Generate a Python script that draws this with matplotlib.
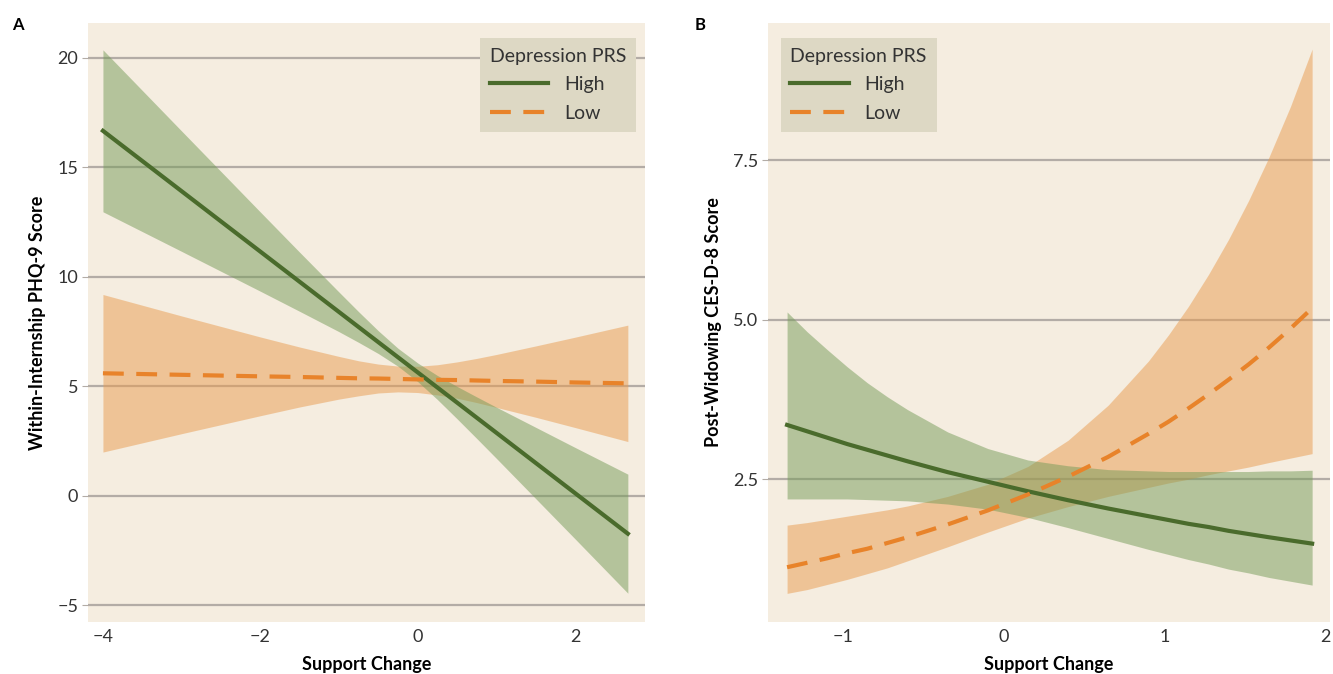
import matplotlib.pyplot as plt

plt.rcParams['font.family'] = ['Lato', 'DejaVu Sans']

# Panel A: Within-Internship PHQ-9 score vs support change
xa = [-4, -3, -2, -1.5, -1, -0.75, -0.5, -0.25, 0, 0.25, 0.5, 0.75, 1, 1.5, 2, 2.67]
a_high = [16.67, 13.91, 11.15, 9.77, 8.39, 7.70, 7.01, 6.32, 5.63, 4.94, 4.25, 3.56, 2.87, 1.49, 0.11, -1.74]
a_high_lo = [12.97, 11.16, 9.34, 8.42, 7.49, 7.00, 6.49, 5.91, 5.21, 4.39, 3.51, 2.61, 1.70, -0.14, -1.98, -4.46]
a_high_hi = [20.37, 16.66, 12.96, 11.12, 9.30, 8.40, 7.53, 6.73, 6.06, 5.49, 4.99, 4.51, 4.04, 3.12, 2.20, 0.98]
a_low = [5.59, 5.52, 5.45, 5.42, 5.38, 5.36, 5.35, 5.33, 5.31, 5.29, 5.28, 5.26, 5.24, 5.21, 5.17, 5.13]
a_low_lo = [1.99, 2.83, 3.65, 4.05, 4.41, 4.56, 4.69, 4.74, 4.71, 4.60, 4.45, 4.25, 4.03, 3.58, 3.11, 2.47]
a_low_hi = [9.19, 8.21, 7.25, 6.79, 6.36, 6.16, 6.01, 5.92, 5.91, 5.98, 6.11, 6.27, 6.45, 6.84, 7.24, 7.79]

# Panel B: Post-Widowing CES-D-8 score vs support change
xb = [-1.35, -1.225, -1.1, -0.975, -0.85, -0.725, -0.6, -0.35, -0.1, 0.15, 0.4,
      0.65, 0.9, 1.025, 1.15, 1.275, 1.4, 1.525, 1.65, 1.785, 1.92]
b_high = [3.35, 3.25, 3.15, 3.05, 2.96, 2.87, 2.78, 2.61, 2.46, 2.31, 2.17,
          2.04, 1.92, 1.86, 1.80, 1.75, 1.69, 1.64, 1.59, 1.54, 1.49]
b_high_lo = [2.19, 2.19, 2.19, 2.19, 2.18, 2.17, 2.16, 2.11, 2.03, 1.90, 1.74,
             1.57, 1.40, 1.32, 1.24, 1.17, 1.09, 1.03, 0.96, 0.90, 0.84]
b_high_hi = [5.12, 4.81, 4.53, 4.26, 4.01, 3.79, 3.59, 3.24, 2.98, 2.80, 2.71,
             2.65, 2.63, 2.62, 2.62, 2.62, 2.62, 2.62, 2.63, 2.63, 2.64]
b_low = [1.12, 1.19, 1.26, 1.34, 1.41, 1.50, 1.59, 1.79, 2.01, 2.26, 2.54,
         2.85, 3.21, 3.40, 3.61, 3.83, 4.06, 4.30, 4.56, 4.86, 5.18]
b_low_lo = [0.71, 0.77, 0.85, 0.93, 1.02, 1.11, 1.22, 1.44, 1.67, 1.89, 2.07,
            2.23, 2.37, 2.44, 2.50, 2.57, 2.63, 2.69, 2.76, 2.83, 2.90]
b_low_hi = [1.78, 1.82, 1.87, 1.92, 1.97, 2.02, 2.08, 2.23, 2.42, 2.70, 3.11,
            3.66, 4.35, 4.76, 5.21, 5.71, 6.26, 6.87, 7.54, 8.34, 9.24]

bg = '#F5EDE0'
green = '#4A6B2C'
green_fill = '#759B58'
orange = '#E8832A'
orange_fill = '#E99B4E'
grid = '#B3ACA6'

fig = plt.figure(figsize=(13.33, 6.74), dpi=100)
axA = fig.add_axes([0.066, 0.077, 0.418, 0.889])
axB = fig.add_axes([0.576, 0.077, 0.4216, 0.889])


def style(ax):
    ax.set_facecolor(bg)
    for s in ax.spines.values():
        s.set_visible(False)
    ax.yaxis.grid(True, color=grid, linewidth=1.6)
    ax.set_axisbelow(True)
    ax.tick_params(axis='y', length=4, color=grid, labelsize=13, labelcolor='#333333', pad=3)
    ax.tick_params(axis='x', length=0, labelsize=13, labelcolor='#333333', pad=5)
    ax.set_xlabel('Support Change', fontsize=13, fontweight='bold', labelpad=8)


def draw(ax, x, hi, hi_lo, hi_hi, lo, lo_lo, lo_hi):
    ax.fill_between(x, lo_lo, lo_hi, color=orange_fill, alpha=0.5, linewidth=0)
    ax.fill_between(x, hi_lo, hi_hi, color=green_fill, alpha=0.5, linewidth=0)
    ax.plot(x, hi, color=green, linewidth=3, label='High')
    ax.plot(x, lo, color=orange, linewidth=3, dashes=(5, 3), label='Low')


style(axA)
draw(axA, xa, a_high, a_high_lo, a_high_hi, a_low, a_low_lo, a_low_hi)
axA.set_xlim(-4.19, 2.89)
axA.set_ylim(-5.78, 21.6)
axA.set_xticks([-4, -2, 0, 2])
axA.set_xticklabels(['\u22124', '\u22122', '0', '2'])
axA.set_yticks([-5, 0, 5, 10, 15, 20])
axA.set_yticklabels(['\u22125', '0', '5', '10', '15', '20'])
axA.set_ylabel('Within-Internship PHQ-9 Score', fontsize=13, fontweight='bold', labelpad=8)

style(axB)
draw(axB, xb, b_high, b_high_lo, b_high_hi, b_low, b_low_lo, b_low_hi)
axB.set_xlim(-1.47, 2.03)
axB.set_ylim(0.26, 9.65)
axB.set_xticks([-1, 0, 1, 2])
axB.set_xticklabels(['\u22121', '0', '1', '2'])
axB.set_yticks([2.5, 5.0, 7.5])
axB.set_yticklabels(['2.5', '5.0', '7.5'])
axB.set_ylabel('Post-Widowing CES-D-8 Score', fontsize=13, fontweight='bold', labelpad=8)

for ax, loc, anchor in [(axA, 'upper right', (0.984, 0.975)), (axB, 'upper left', (0.023, 0.975))]:
    leg = ax.legend(title='Depression PRS', loc=loc, bbox_to_anchor=anchor, borderaxespad=0,
                    fontsize=14, title_fontsize=14, frameon=True, fancybox=False,
                    borderpad=0.5, labelspacing=0.6, handlelength=3.0)
    leg.get_frame().set_facecolor('#DDD8C4')
    leg.get_frame().set_edgecolor('none')
    leg.get_frame().set_alpha(1)
    leg._legend_box.align = 'left'
    for t in leg.get_texts():
        t.set_color('#333333')
    leg.get_title().set_color('#333333')

fig.text(0.009, 0.955, 'A', fontsize=12, fontweight='bold')
fig.text(0.521, 0.955, 'B', fontsize=12, fontweight='bold')

fig.savefig('out.png', dpi=100, facecolor='white')
